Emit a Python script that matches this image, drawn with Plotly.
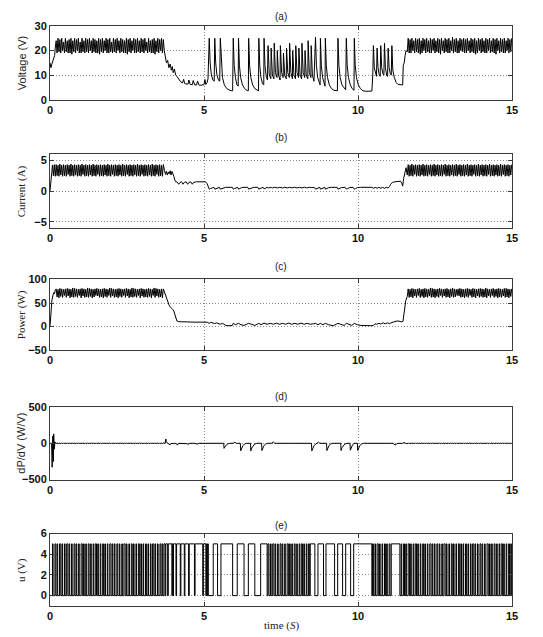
import plotly.graph_objects as go

# ---------------- time bases for the steady oscillating bands ----------------
t_bandA = [0.20,0.23,0.26,0.29,0.32,0.35,0.38,0.41,0.44,0.47,
           0.50,0.53,0.56,0.59,0.62,0.65,0.68,0.71,0.74,0.77,
           0.80,0.83,0.86,0.89,0.92,0.95,0.98,1.01,1.04,1.07,
           1.10,1.13,1.16,1.19,1.22,1.25,1.28,1.31,1.34,1.37,
           1.40,1.43,1.46,1.49,1.52,1.55,1.58,1.61,1.64,1.67,
           1.70,1.73,1.76,1.79,1.82,1.85,1.88,1.91,1.94,1.97,
           2.00,2.03,2.06,2.09,2.12,2.15,2.18,2.21,2.24,2.27,
           2.30,2.33,2.36,2.39,2.42,2.45,2.48,2.51,2.54,2.57,
           2.60,2.63,2.66,2.69,2.72,2.75,2.78,2.81,2.84,2.87,
           2.90,2.93,2.96,2.99,3.02,3.05,3.08,3.11,3.14,3.17,
           3.20,3.23,3.26,3.29,3.32,3.35,3.38,3.41,3.44,3.47,
           3.50,3.53,3.56,3.59,3.62,3.65,3.68]
t_bandB = [11.60,11.63,11.66,11.69,11.72,11.75,11.78,11.81,11.84,11.87,
           11.90,11.93,11.96,11.99,12.02,12.05,12.08,12.11,12.14,12.17,
           12.20,12.23,12.26,12.29,12.32,12.35,12.38,12.41,12.44,12.47,
           12.50,12.53,12.56,12.59,12.62,12.65,12.68,12.71,12.74,12.77,
           12.80,12.83,12.86,12.89,12.92,12.95,12.98,13.01,13.04,13.07,
           13.10,13.13,13.16,13.19,13.22,13.25,13.28,13.31,13.34,13.37,
           13.40,13.43,13.46,13.49,13.52,13.55,13.58,13.61,13.64,13.67,
           13.70,13.73,13.76,13.79,13.82,13.85,13.88,13.91,13.94,13.97,
           14.00,14.03,14.06,14.09,14.12,14.15,14.18,14.21,14.24,14.27,
           14.30,14.33,14.36,14.39,14.42,14.45,14.48,14.51,14.54,14.57,
           14.60,14.63,14.66,14.69,14.72,14.75,14.78,14.81,14.84,14.87,
           14.90,14.93,14.96,14.99]

# ---------------- (a) Voltage ----------------
v_pre_t = [0.00, 0.03, 0.06, 0.09, 0.12, 0.15, 0.17]
v_pre = [15, 13, 14.5, 16, 17, 18, 21]
v_bandA = [24,19,25,19.5,24.5,19,25,20,23.5,19,
           25,19.5,24,19,24.5,19,25,18.5,24,19.5,
           25,19,24.5,20,25,19,23.5,19,25,19.5,
           24,19,25,19.5,24.5,19,25,20,24,19,
           25,19.5,24.5,19,24,19,25,18.5,24.5,19.5,
           25,19,24,20,25,19,24.5,19,25,19.5,
           23.5,19,25,19.5,24.5,19,25,20,24,19,
           25,19.5,24.5,19,24,19,25,18.5,24.5,19.5,
           25,19,24,20,25,19,24.5,19,25,19.5,
           24,19,25,19.5,24.5,19,25,20,23.5,19,
           25,19.5,24,19,24.5,19,25,18.5,24,19.5,
           25,19,24.5,20,25,19,24.5]
v_mid_t = [3.71,3.74,3.78,3.82,3.86,3.90,3.94,3.97,4.00,4.04,4.08,4.12,4.16,4.20,4.25,4.30,4.34,4.37,4.42,4.48,
           4.51,4.55,4.62,4.65,4.70,4.76,4.79,4.84,4.90,4.96,5.00,5.03,5.06,5.10,5.13,
           5.17,5.20,5.24,5.29,5.33,5.35,5.38,5.42,5.47,5.51,5.53,5.56,5.60,5.66,5.74,5.84,5.93,
           5.95,5.98,6.02,6.07,6.11,6.12,6.15,6.19,6.25,6.32,6.40,6.44,6.45,6.48,6.52,6.58,6.65,6.73,6.77,
           6.78,6.81,6.85,6.90,6.94,6.95,6.98,7.02,7.06,
           7.08,7.12,7.17,7.18,7.22,7.27,7.28,7.32,7.37,7.38,7.42,7.47,7.48,7.52,7.57,7.58,7.62,7.67,
           7.68,7.72,7.77,7.78,7.82,7.87,7.88,7.92,7.97,7.98,8.02,8.07,8.08,8.12,8.17,8.18,8.22,8.27,
           8.28,8.32,8.37,8.38,8.42,8.47,8.48,8.52,8.57,
           8.62,8.65,8.69,8.73,8.77,8.78,8.81,8.85,8.90,8.93,8.94,8.97,9.01,9.07,9.14,9.22,9.33,
           9.35,9.38,9.42,9.48,9.55,9.60,9.62,9.65,9.69,9.75,9.81,9.87,9.88,9.91,9.95,10.01,10.08,10.16,
           10.25,10.35,10.45,
           10.48,10.50,10.53,10.57,10.60,10.62,10.65,10.69,10.72,10.74,10.77,10.81,10.84,10.86,10.89,10.93,
           10.96,10.98,11.01,11.05,11.08,11.10,11.13,11.18,11.24,11.30,11.38,11.45,11.47,11.50,11.53,11.56]
v_mid = [20,17,15,16,13,14.5,12,13.5,11,12.5,10,9.5,8.5,8,7.2,6.8,8.3,6.6,6.4,6.3,
         8.0,6.2,6.1,7.8,6.0,6.0,7.6,5.9,5.9,6.0,6.1,8.2,6.2,7.0,8.5,
         25,15,10,8,7.5,25,15,10,8,7.5,25,15,9,6,4.5,3.8,3.6,
         25,14,9,6,5.5,25,14,9,6,4.5,3.7,3.6,25,14,9,6,4.5,3.7,3.6,
         25,14,9,6.5,6,25,14,9.5,8,
         22,10,8.5,21,10,8.5,23,11,9,20,10,8,22,11,9,19,10,8.5,
         21,11,9,23,11,8.5,20,10,8.5,22,11,9,21,10,8.5,23,11,9,
         20,10,8.5,24,11,9,22,10,7.5,
         25.5,14,9,7,6,25,14,9,6,5.5,25,14,9,6,4.5,3.8,3.6,
         25,14,9,6,4.5,4,25,14,9,6,4.5,3.8,25,14,9,6,4.5,3.6,
         3.4,3.4,3.5,
         10,22,13,10,9.5,21,13,10,9.5,22,13,10.5,10,23,13,10,
         9.5,21,13,10.5,10,22,12,9,7,6.2,6,6,14,15,18,20]
v_bandB = [19.5,25,19,24.5,19,25,20,24,19,25,
           19.5,24.5,19,25,18.5,24,19,25,20,24.5,
           19,25,19.5,24,19,25,19,24.5,20,25,
           19,24,19.5,25,19,24.5,18.5,25,20,24,
           19,25,19.5,24.5,19,25,19,24,20,25.5,
           19,24.5,19.5,25,19,24,19,25,20,24.5,
           19.5,25,19,24.5,19,25,20,24,19,25,
           19.5,24.5,19,25,18.5,24,19,25,20,24.5,
           19,25,19.5,24,19,25,19,24.5,20,25,
           19,24,19.5,25,19,24.5,18.5,25,20,24,
           19,25,19.5,24.5,19,25,19,24,20,25,
           19,24.5,19.5,25]

# ---------------- (b) Current ----------------
i_pre_t = [0.00, 0.02, 0.05, 0.08, 0.11, 0.14, 0.17]
i_pre = [0, 1.0, 2.5, 4.2, 2.5, 4.3, 2.4]
i_bandA = [4.3,2.5,4.2,2.4,4.4,2.6,4.2,2.4,4.3,2.5,
           4.2,2.4,4.3,2.7,4.2,2.4,4.4,2.5,4.2,2.4,
           4.3,2.6,4.2,2.4,4.3,2.5,4.2,2.4,4.4,2.7,
           4.2,2.4,4.3,2.5,4.2,2.4,4.3,2.6,4.2,2.4,
           4.4,2.5,4.2,2.4,4.3,2.7,4.2,2.4,4.3,2.5,
           4.2,2.4,4.3,2.6,4.2,2.4,4.4,2.5,4.2,2.4,
           4.3,2.7,4.2,2.4,4.3,2.5,4.2,2.4,4.3,2.6,
           4.2,2.4,4.4,2.5,4.2,2.4,4.3,2.7,4.2,2.4,
           4.3,2.5,4.2,2.4,4.3,2.6,4.2,2.4,4.4,2.5,
           4.2,2.4,4.3,2.7,4.2,2.4,4.3,2.5,4.2,2.4,
           4.3,2.6,4.2,2.4,4.4,2.5,4.2,2.4,4.3,2.7,
           4.2,2.4,4.3,2.5,4.2,2.4,4.3]
i_mid_t = [3.72,3.75,3.78,3.81,3.84,3.87,3.90,3.93,3.96,3.99,4.02,4.05,4.08,4.12,4.18,4.22,4.27,4.32,4.36,4.42,
           4.47,4.51,4.57,4.62,4.66,4.75,4.85,4.95,5.05,5.10,5.14,
           5.17,5.21,5.26,5.32,5.35,5.39,5.44,5.50,5.53,5.57,5.63,5.70,5.92,5.95,5.99,6.04,6.09,
           6.12,6.16,6.22,6.30,6.42,6.45,6.49,6.55,6.62,6.75,6.78,6.82,6.88,6.92,6.95,6.99,7.05,
           7.10,7.16,7.22,7.30,7.38,7.46,7.55,7.62,7.70,7.78,7.86,7.94,8.02,8.10,8.18,8.26,8.34,8.42,8.50,8.58,
           8.62,8.66,8.72,8.76,8.78,8.82,8.88,8.92,8.94,8.98,9.05,9.15,9.32,9.35,9.39,9.46,9.58,
           9.62,9.66,9.72,9.84,9.88,9.92,9.98,10.08,10.30,10.45,10.50,10.56,10.62,10.68,10.74,10.80,
           10.86,10.92,10.98,11.02,11.06,11.12,11.20,11.30,11.38,11.42,11.45,11.48,11.52,11.56]
i_mid = [3.3,2.7,3.2,2.6,3.1,2.8,3.3,2.6,3.2,2.9,2.4,1.8,1.5,1.5,1.1,1.4,1.5,1.1,1.4,1.5,
         1.1,1.4,1.5,1.1,1.4,1.5,1.5,1.5,1.5,1.2,0.7,
         0.3,0.4,0.55,0.6,0.3,0.4,0.55,0.6,0.3,0.4,0.55,0.6,0.6,0.3,0.4,0.55,0.6,
         0.3,0.4,0.55,0.6,0.6,0.3,0.4,0.55,0.6,0.6,0.3,0.4,0.55,0.6,0.35,0.45,0.6,
         0.5,0.6,0.5,0.62,0.5,0.6,0.5,0.62,0.5,0.6,0.5,0.62,0.5,0.6,0.5,0.62,0.5,0.6,0.55,0.6,
         0.3,0.4,0.55,0.6,0.3,0.4,0.55,0.6,0.3,0.4,0.55,0.6,0.6,0.3,0.4,0.55,0.6,
         0.3,0.4,0.55,0.6,0.3,0.4,0.55,0.6,0.6,0.6,0.45,0.6,0.45,0.6,0.45,0.6,
         0.45,0.6,0.5,0.7,1.1,1.4,1.5,1.6,1.6,1.3,0.8,2.0,3.0,3.8]
i_bandB = [2.6,4.3,2.4,4.2,2.5,4.4,2.4,4.2,2.7,4.3,
           2.4,4.2,2.5,4.3,2.4,4.2,2.6,4.4,2.4,4.2,
           2.5,4.3,2.4,4.2,2.7,4.3,2.4,4.2,2.5,4.4,
           2.4,4.2,2.6,4.3,2.4,4.2,2.5,4.3,2.4,4.2,
           2.7,4.4,2.4,4.2,2.5,4.3,2.4,4.2,2.6,4.3,
           2.4,4.2,2.5,4.4,2.4,4.2,2.7,4.3,2.4,4.2,
           2.5,4.3,2.4,4.2,2.6,4.4,2.4,4.2,2.5,4.3,
           2.4,4.2,2.7,4.3,2.4,4.2,2.5,4.4,2.4,4.2,
           2.6,4.3,2.4,4.2,2.5,4.3,2.4,4.2,2.7,4.4,
           2.4,4.2,2.5,4.3,2.4,4.2,2.6,4.3,2.4,4.2,
           2.5,4.4,2.4,4.2,2.7,4.3,2.4,4.2,2.5,4.3,
           2.4,4.2,2.6,4.3]

# ---------------- (c) Power ----------------
p_pre_t = [0.00, 0.03, 0.06, 0.09, 0.12, 0.15, 0.17]
p_pre = [0, 30, 55, 65, 72, 70, 78]
p_bandA = [80,63,79,61,81,64,80,62,79,66,
           80,62,81,65,80,61,79,63,82,62,
           81,64,80,62,79,66,80,61,81,65,
           80,62,79,63,82,62,81,64,80,61,
           79,63,80,66,81,65,80,62,79,63,
           80,61,81,64,80,62,79,66,82,62,
           81,65,80,62,79,63,80,61,81,64,
           80,62,79,66,80,62,81,65,80,61,
           79,63,82,62,81,64,80,62,79,66,
           80,61,81,65,80,62,79,63,80,62,
           81,64,80,61,79,66,82,62,81,65,
           80,62,79,63,80,61,80]
p_mid_t = [3.72,3.75,3.78,3.81,3.84,3.87,3.90,3.93,3.96,3.99,4.02,4.05,4.08,4.12,4.18,4.30,4.50,4.70,4.90,5.00,
           5.10,5.17,5.22,5.35,5.40,5.53,5.60,5.70,5.80,5.92,5.95,6.02,6.12,6.20,6.30,6.45,6.55,6.65,6.78,6.85,
           6.95,7.05,7.15,7.25,7.35,7.45,7.55,7.65,7.75,7.85,7.95,8.05,8.15,8.25,8.35,8.45,8.55,8.62,8.70,8.78,
           8.86,8.94,9.05,9.20,9.35,9.45,9.55,9.62,9.72,9.80,9.88,9.98,10.10,10.20,10.40,10.50,10.55,10.60,10.68,10.74,
           10.82,10.88,10.96,11.02,11.10,11.20,11.30,11.35,11.42,11.46,11.50,11.55]
p_mid = [72,65,60,55,52,45,42,40,40,36,33,25,18,12,10.5,10,9.5,9.5,9.5,9,
         9.5,7,9,6.5,8,5,7,3,2,2.5,7,4,7,4,2.5,7,4,2.5,7,4,
         7.5,5,7,5,7.5,5,7,5,7.5,5,7,5,7.5,5,7,5,6,7,4,7,
         4,7,4,2,7,4,2.5,7,4,2.5,7,4,2.5,2,2,2.5,6,5,7,5.5,
         8,6,8,6.5,9,11,12,11,10,11,30,55]
p_bandB = [64,80,62,79,63,81,61,80,65,79,
           62,80,66,81,62,79,64,80,61,81,
           63,80,62,79,65,82,62,81,63,80,
           61,79,64,80,62,81,66,80,62,79,
           65,80,62,81,63,79,61,80,64,82,
           62,80,63,79,66,80,65,81,62,80,
           63,79,61,80,64,81,62,80,66,79,
           62,81,63,80,61,79,65,80,62,81,
           64,80,62,79,63,82,61,80,65,79,
           62,80,66,81,62,79,64,80,61,81,
           63,80,62,79,65,81,62,81,63,80,
           61,79,64,80]

# ---------------- (d) dP/dV ----------------
d_pre_t = [0.00, 0.05, 0.07, 0.09, 0.11, 0.12, 0.14, 0.16, 0.18]
d_pre = [0, 0, -330, 100, -250, 130, -80, 20, 0]
d_bandA = [7,-6,6,-7,7,-6,6,-7,7,-6,
           6,-7,7,-6,6,-7,7,-6,6,-7,
           7,-6,6,-7,7,-6,6,-7,7,-6,
           6,-7,7,-6,6,-7,7,-6,6,-7,
           7,-6,6,-7,7,-6,6,-7,7,-6,
           6,-7,7,-6,6,-7,7,-6,6,-7,
           7,-6,6,-7,7,-6,6,-7,7,-6,
           6,-7,7,-6,6,-7,7,-6,6,-7,
           7,-6,6,-7,7,-6,6,-7,7,-6,
           6,-7,7,-6,6,-7,7,-6,6,-7,
           7,-6,6,-7,7,-6,6,-7,7,-6,
           6,-7,7,-6,6,-7,7]
d_mid_t = [3.74,3.76,3.78,3.82,3.86,3.90,3.93,3.97,4.05,4.10,4.14,4.17,4.30,4.45,4.50,4.53,4.70,4.80,4.83,5.00,
           5.30,5.40,5.45,5.50,
           5.64,5.65,5.68,5.72,5.77,5.84,5.95,6.00,6.05,
           6.18,6.19,6.22,6.26,6.31,6.38,
           6.51,6.52,6.55,6.59,6.64,6.71,
           6.87,6.88,6.91,6.95,7.00,7.07,7.20,7.25,7.30,8.00,
           8.49,8.50,8.53,8.57,8.62,8.69,8.72,8.76,
           8.98,8.99,9.02,9.06,9.11,9.18,
           9.44,9.45,9.48,9.52,9.57,9.64,
           9.74,9.75,9.78,9.82,9.87,
           9.98,9.99,10.02,10.06,10.11,10.18,
           11.15,11.20,11.25,11.30,11.45,11.50,11.55]
d_mid = [0,60,20,0,-5,-20,-5,0,0,-5,-25,0,0,-5,-15,0,0,-12,0,0,
         0,5,-5,0,
         0,-70,-45,-25,-10,0,0,15,0,
         0,-105,-65,-35,-12,0,
         0,-105,-65,-35,-12,0,
         0,-100,-60,-30,-10,0,0,20,0,0,
         0,-105,-65,-35,-12,0,15,0,
         0,-100,-60,-30,-10,0,
         0,-100,-60,-30,-10,0,
         0,-95,-55,-25,0,
         0,-100,-60,-30,-10,0,
         0,-25,-10,0,0,10,0]
d_bandB = [-6,7,-7,6,-6,7,-7,6,-6,7,
           -7,6,-6,7,-7,6,-6,7,-7,6,
           -6,7,-7,6,-6,7,-7,6,-6,7,
           -7,6,-6,7,-7,6,-6,7,-7,6,
           -6,7,-7,6,-6,7,-7,6,-6,7,
           -7,6,-6,7,-7,6,-6,7,-7,6,
           -6,7,-7,6,-6,7,-7,6,-6,7,
           -7,6,-6,7,-7,6,-6,7,-7,6,
           -6,7,-7,6,-6,7,-7,6,-6,7,
           -7,6,-6,7,-7,6,-6,7,-7,6,
           -6,7,-7,6,-6,7,-7,6,-6,7,
           -7,6,-6,7]

# ---------------- (e) u : intervals where the switching signal is high (5 V) ----------------
u_on = [0.08,0.16,0.23,0.31,0.39,0.47,0.54,0.62,0.70,0.78,0.85,0.93,1.01,1.09,1.16,1.24,1.32,1.40,1.47,1.55,
        1.63,1.71,1.78,1.86,1.94,2.02,2.09,2.17,2.25,2.33,2.40,2.48,2.56,2.64,2.71,2.79,2.87,2.95,3.02,3.10,
        3.18,3.26,3.33,3.41,3.49,3.57,3.64,
        3.70,3.76,3.84,3.97,4.01,4.11,4.25,4.38,4.52,4.71,4.98,5.08,5.12,5.30,5.55,6.08,6.44,6.84,
        7.08,7.16,7.23,7.31,7.39,7.47,7.54,7.62,7.70,7.78,7.85,7.93,8.01,8.09,8.16,8.24,8.32,8.39,
        8.45,8.70,8.96,9.34,9.60,9.86,
        10.47,10.55,10.62,10.70,10.78,10.86,10.93,11.01,11.08,
        11.40,11.48,11.55,11.63,11.71,11.79,11.86,11.94,12.02,12.10,12.17,12.25,12.33,12.41,12.48,12.56,
        12.64,12.72,12.79,12.87,12.95,13.03,13.10,13.18,13.26,13.34,13.41,13.49,13.57,13.65,13.72,13.80,
        13.88,13.96,14.03,14.11,14.19,14.27,14.34,14.42,14.50,14.58,14.65,14.73,14.81,14.89,14.96]
u_off = [0.10,0.19,0.25,0.35,0.41,0.49,0.58,0.64,0.72,0.81,0.87,0.95,1.05,1.11,1.18,1.27,1.34,1.42,1.51,1.57,
         1.65,1.74,1.80,1.88,1.98,2.04,2.11,2.20,2.27,2.35,2.44,2.50,2.58,2.67,2.73,2.81,2.91,2.97,3.04,3.13,
         3.20,3.28,3.37,3.43,3.51,3.60,3.66,
         3.74,3.82,3.96,3.99,4.09,4.23,4.36,4.50,4.69,4.96,5.06,5.10,5.14,5.44,5.93,6.30,6.65,7.05,
         7.11,7.18,7.27,7.33,7.41,7.50,7.56,7.64,7.74,7.80,7.87,7.96,8.03,8.11,8.20,8.26,8.34,8.42,
         8.60,8.88,9.24,9.50,9.76,10.45,
         10.50,10.57,10.66,10.72,10.80,10.89,10.95,11.04,11.36,
         11.42,11.51,11.57,11.67,11.73,11.81,11.90,11.96,12.04,12.13,12.19,12.27,12.37,12.43,12.50,12.59,
         12.66,12.74,12.83,12.89,12.97,13.06,13.12,13.20,13.30,13.36,13.43,13.52,13.59,13.67,13.76,13.82,
         13.90,13.99,14.05,14.13,14.23,14.29,14.36,14.45,14.52,14.60,14.69,14.75,14.83,14.92,14.98]
U_HIGH = 5
U_LOW = 0

assert len(t_bandA) == len(v_bandA) == len(i_bandA) == len(p_bandA) == len(d_bandA), (
    "bandA", len(t_bandA), len(v_bandA), len(i_bandA), len(p_bandA), len(d_bandA))
assert len(t_bandB) == len(v_bandB) == len(i_bandB) == len(p_bandB) == len(d_bandB), (
    "bandB", len(t_bandB), len(v_bandB), len(i_bandB), len(p_bandB), len(d_bandB))
assert len(v_mid_t) == len(v_mid), ("v", len(v_mid_t), len(v_mid))
assert len(i_mid_t) == len(i_mid), ("i", len(i_mid_t), len(i_mid))
assert len(p_mid_t) == len(p_mid), ("p", len(p_mid_t), len(p_mid))
assert len(d_mid_t) == len(d_mid), ("d", len(d_mid_t), len(d_mid))
assert len(u_on) == len(u_off), ("u", len(u_on), len(u_off))

# ---------------- assemble series ----------------
def join(pre_t, pre, a, mid_t, mid, b):
    return (pre_t + t_bandA + mid_t + t_bandB, pre + a + mid + b)

series = [
    join(v_pre_t, v_pre, v_bandA, v_mid_t, v_mid, v_bandB),
    join(i_pre_t, i_pre, i_bandA, i_mid_t, i_mid, i_bandB),
    join(p_pre_t, p_pre, p_bandA, p_mid_t, p_mid, p_bandB),
    join(d_pre_t, d_pre, d_bandA, d_mid_t, d_mid, d_bandB),
]
ux, uy = [0.0], [U_LOW]
for on, off in zip(u_on, u_off):
    ux += [on, off]
    uy += [U_HIGH, U_LOW]
ux.append(15.0)
uy.append(U_LOW)
series.append((ux, uy))

titles = ["(a)", "(b)", "(c)", "(d)", "(e)"]
ylabels = ["Voltage (V)", "Current (A)", "Power (W)", "dP/dV (W/V)", "u (V)"]
ylabel_fonts = ["Liberation Sans", "Liberation Serif", "Liberation Serif", "Liberation Sans", "Liberation Serif"]
yranges = [[0, 30], [-6, 6], [-50, 100], [-500, 500], [-1, 6]]
ytickvals = [[0, 10, 20, 30], [-5, 0, 5], [-50, 0, 50, 100], [-500, 0, 500], [0, 2, 4, 6]]
domains = [[0.873, 1.0], [0.652, 0.779], [0.441, 0.563], [0.218, 0.343], [0.0, 0.125]]
title_y = [1.017, 0.808, 0.585, 0.362, 0.139]

fig = go.Figure()
axis_common = dict(showline=True, linecolor="#3a3a3a", linewidth=1, mirror="ticks",
                   ticks="inside", ticklen=4, tickcolor="#3a3a3a",
                   showgrid=True, gridcolor="#8c8c8c", griddash="1px,2px", gridwidth=1,
                   zeroline=False,
                   tickfont=dict(family="Liberation Sans", size=11, color="#111", weight="bold"))

annotations = []
for k in range(5):
    sfx = "" if k == 0 else str(k + 1)
    x, y = series[k]
    fig.add_trace(go.Scatter(x=x, y=y, mode="lines", xaxis="x" + sfx, yaxis="y" + sfx,
                             line=dict(color="black", width=1,
                                       shape="hv" if k == 4 else "linear"),
                             showlegend=False, hoverinfo="skip"))
    fig.layout["xaxis" + sfx] = dict(axis_common, domain=[0, 1], range=[0, 15],
                                     tickvals=[0, 5, 10, 15], anchor="y" + sfx)
    fig.layout["yaxis" + sfx] = dict(axis_common, domain=domains[k], range=yranges[k],
                                     tickvals=ytickvals[k], anchor="x" + sfx)
    annotations.append(dict(text=titles[k], xref="paper", yref="paper", x=0.5, y=title_y[k],
                            xanchor="center", yanchor="middle", showarrow=False,
                            font=dict(family="Liberation Sans", size=10, color="#222")))
    annotations.append(dict(text=ylabels[k], xref="paper", yref="paper", x=-0.062,
                            y=(domains[k][0] + domains[k][1]) / 2, textangle=-90,
                            xanchor="center", yanchor="middle", showarrow=False,
                            font=dict(family=ylabel_fonts[k], size=11, color="#222")))

annotations.append(dict(text="time (<i>S</i>)", xref="paper", yref="paper", x=0.5, y=-0.034,
                        xanchor="center", yanchor="middle", showarrow=False,
                        font=dict(family="Liberation Serif", size=11, color="#222")))

# the page body adds an 8 px offset, so the figure is 8 px smaller than the window
fig.update_layout(width=535, height=629, margin=dict(l=42, r=31, t=15, b=31),
                  paper_bgcolor="white", plot_bgcolor="white", annotations=annotations)

fig.write_html("out.html")
